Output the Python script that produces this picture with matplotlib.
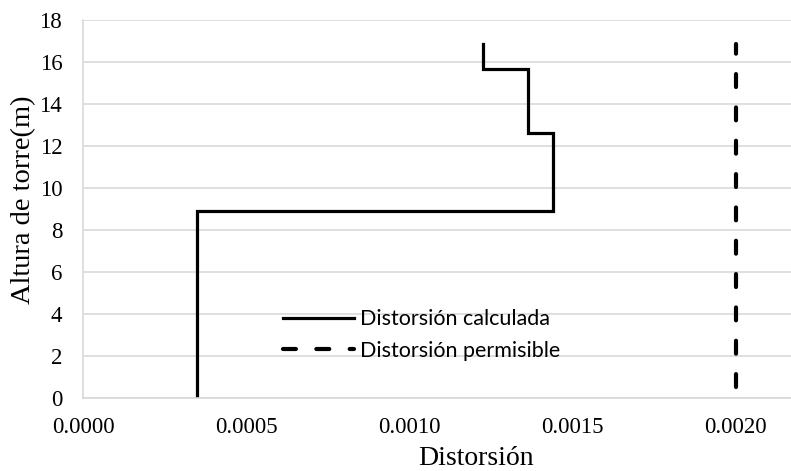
import matplotlib
matplotlib.use("Agg")
import matplotlib.pyplot as plt

# Data
altura_calc = [0.0, 8.9, 8.9, 12.6, 12.6, 15.65, 15.65, 16.85]
distorsion_calc = [0.00035, 0.00035, 0.001442, 0.001442, 0.001365, 0.001365, 0.001227, 0.001227]
altura_perm = [0.5, 16.85]
distorsion_perm = [0.0020, 0.0020]
xticks = [0.0, 0.0005, 0.0010, 0.0015, 0.0020]
xtick_labels = ["0.0000", "0.0005", "0.0010", "0.0015", "0.0020"]
yticks = [0, 2, 4, 6, 8, 10, 12, 14, 16, 18]

fig = plt.figure(figsize=(7.91, 4.71), dpi=100)
ax = fig.add_axes([0.105, 0.155, 0.895, 0.8025])

serif = ["Liberation Serif", "DejaVu Serif"]
sans = ["Lato", "DejaVu Sans"]

ax.plot(distorsion_calc, altura_calc, color="black", lw=2.3,
        solid_joinstyle="miter", label="Distorsión calculada")
ax.plot(distorsion_perm, altura_perm, color="black", lw=3.0,
        linestyle=(0, (3.1, 4.9)), dash_capstyle="round",
        label="Distorsión permisible")

ax.set_xlim(0, 0.00217)
ax.set_ylim(0, 18)
ax.set_xticks(xticks)
ax.set_xticklabels(xtick_labels, fontfamily=serif, fontsize=16.5)
ax.set_yticks(yticks)
ax.set_yticklabels([str(v) for v in yticks], fontfamily=serif, fontsize=16.5)
ax.tick_params(axis="y", length=0, pad=15)
ax.tick_params(axis="x", length=0, pad=14)

ax.grid(axis="y", color="#d9d9d9", lw=1.2)
ax.set_axisbelow(True)
for s in ["top", "right"]:
    ax.spines[s].set_visible(False)
for s in ["left", "bottom"]:
    ax.spines[s].set_color("#d9d9d9")
    ax.spines[s].set_linewidth(1.2)

ax.set_xlabel("Distorsión", fontfamily=serif, fontsize=20)
ax.set_ylabel("Altura de torre(m)", fontfamily=serif, fontsize=20.5)
ax.xaxis.set_label_coords(0.555, -0.126)
ax.yaxis.set_label_coords(-0.066, 0.524)

leg = ax.legend(loc="upper left", bbox_to_anchor=(0.282, 0.235),
                frameon=False, prop={"family": sans, "size": 15.5},
                handlelength=3.3, handletextpad=0.3, labelspacing=0.55,
                borderaxespad=0, borderpad=0)

fig.savefig("out.png", dpi=100)
